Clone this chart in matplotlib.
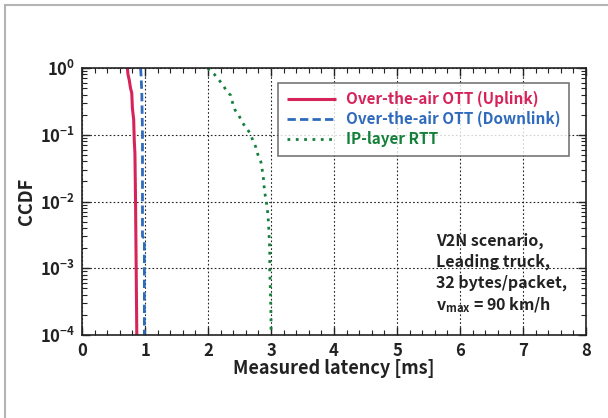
import matplotlib
matplotlib.use("Agg")
import matplotlib.pyplot as plt
from matplotlib.patches import Rectangle
from matplotlib.ticker import LogLocator, MultipleLocator, NullFormatter, FixedLocator

plt.rcParams['font.family'] = ['Noto Sans CJK JP', 'DejaVu Sans']
plt.rcParams['font.weight'] = 'bold'
plt.rcParams['mathtext.fontset'] = 'custom'
plt.rcParams['mathtext.rm'] = 'Noto Sans CJK JP:bold'
plt.rcParams['mathtext.it'] = 'Noto Sans CJK JP:bold'
plt.rcParams['mathtext.bf'] = 'Noto Sans CJK JP:bold'

# Data
uplink_x = [0.72, 0.73, 0.75, 0.77, 0.79, 0.80, 0.82, 0.83, 0.84, 0.85, 0.86, 0.87]
uplink_y = [1.0, 0.8, 0.66, 0.5, 0.42, 0.25, 0.17, 0.08, 0.053, 0.01, 0.001, 1e-4]

downlink_x = [0.93, 0.94, 0.95, 0.96, 0.96, 0.99, 0.99]
downlink_y = [1.0, 0.7, 0.4, 0.1, 0.003, 0.0028, 1e-4]

rtt_x = [2.00, 2.02, 2.10, 2.24, 2.29, 2.36, 2.39, 2.43, 2.49, 2.54, 2.60, 2.67, 2.71,
         2.76, 2.79, 2.84, 2.86, 2.88, 2.89, 2.91, 2.93, 2.95, 2.96, 2.97, 2.98, 2.98,
         2.99, 3.0, 3.0]
rtt_y = [1.0, 0.93, 0.805, 0.556, 0.457, 0.389, 0.302, 0.234, 0.195, 0.155, 0.129, 0.105,
         0.083, 0.065, 0.051, 0.039, 0.030, 0.022, 0.017, 0.012, 0.0093, 0.0066, 0.0048,
         0.0030, 0.0019, 0.00093, 0.00047, 0.00019, 0.0001]

labels = ["Over-the-air OTT (Uplink)", "Over-the-air OTT (Downlink)", "IP-layer RTT"]
colors = ["#d6245a", "#2f6bbd", "#15803a"]

xticks = [0, 1, 2, 3, 4, 5, 6, 7, 8]
yticks = [1e-4, 1e-3, 1e-2, 1e-1, 1e0]
ytick_labels = [r"$\mathregular{10^{-4}}$", r"$\mathregular{10^{-3}}$", r"$\mathregular{10^{-2}}$",
                r"$\mathregular{10^{-1}}$", r"$\mathregular{10^{0}}$"]

fig = plt.figure(figsize=(6.08, 4.18), dpi=100)
ax = fig.add_axes([82/608, 83/418, 504/608, 267/418])

# gray frame of the image
fig.patches.append(Rectangle((5/608, -0.1), 1.2, (413/418) + 0.1, transform=fig.transFigure,
                             fill=False, edgecolor="#b4b4b4", linewidth=1.5))

ax.plot(uplink_x, uplink_y, color=colors[0], lw=2.2, label=labels[0], solid_capstyle='butt')
ax.plot(downlink_x, downlink_y, color=colors[1], lw=2.0, linestyle=(0, (3, 1.5)), label=labels[1])
ax.plot(rtt_x, rtt_y, color=colors[2], lw=2.0, linestyle=(0, (1, 2)), label=labels[2])

ax.set_yscale('log')
ax.set_xlim(0, 8)
ax.set_ylim(1e-4, 1)
ax.xaxis.set_major_locator(FixedLocator(xticks))
ax.xaxis.set_minor_locator(MultipleLocator(0.2))
ax.set_yticks(yticks)
ax.set_yticklabels(ytick_labels)
ax.yaxis.set_minor_locator(LogLocator(base=10, subs=range(2, 10)))
ax.yaxis.set_minor_formatter(NullFormatter())
ax.set_xticklabels([str(t) for t in xticks])

ax.tick_params(which='both', direction='in', top=True, right=True, colors='#222222',
               labelcolor='#222222', labelsize=12)
ax.tick_params(which='major', length=6, width=1.0, pad=5)
ax.tick_params(which='minor', length=3.5, width=0.8)
for s in ax.spines.values():
    s.set_linewidth(1.2)
    s.set_color('#222222')

ax.grid(True, which='major', color='#222222', linestyle=(0, (1.5, 2)), linewidth=0.8)

ax.set_xlabel("Measured latency [ms]", fontsize=13, fontweight='bold', color='#222222', labelpad=-1)
ax.set_ylabel("CCDF", fontsize=13, fontweight='bold', color='#222222', labelpad=3)

leg = ax.legend(loc='upper right', bbox_to_anchor=(0.967, 0.945), fontsize=11, frameon=True,
                fancybox=False, edgecolor='#555555', handlelength=3.2, borderpad=0.55,
                labelspacing=0.25, handletextpad=0.7, borderaxespad=0)
leg.get_frame().set_linewidth(1.2)
for t, c in zip(leg.get_texts(), colors):
    t.set_color(c)

ax.text(0.702, 0.382,
        "V2N scenario,\nLeading truck,\n32 bytes/packet,\n" + r"$\mathregular{v_{max}}$ = 90 km/h",
        transform=ax.transAxes, fontsize=11.5, color='#222222',
        va='top', ha='left', linespacing=1.32)

fig.savefig("out.png", dpi=100)
